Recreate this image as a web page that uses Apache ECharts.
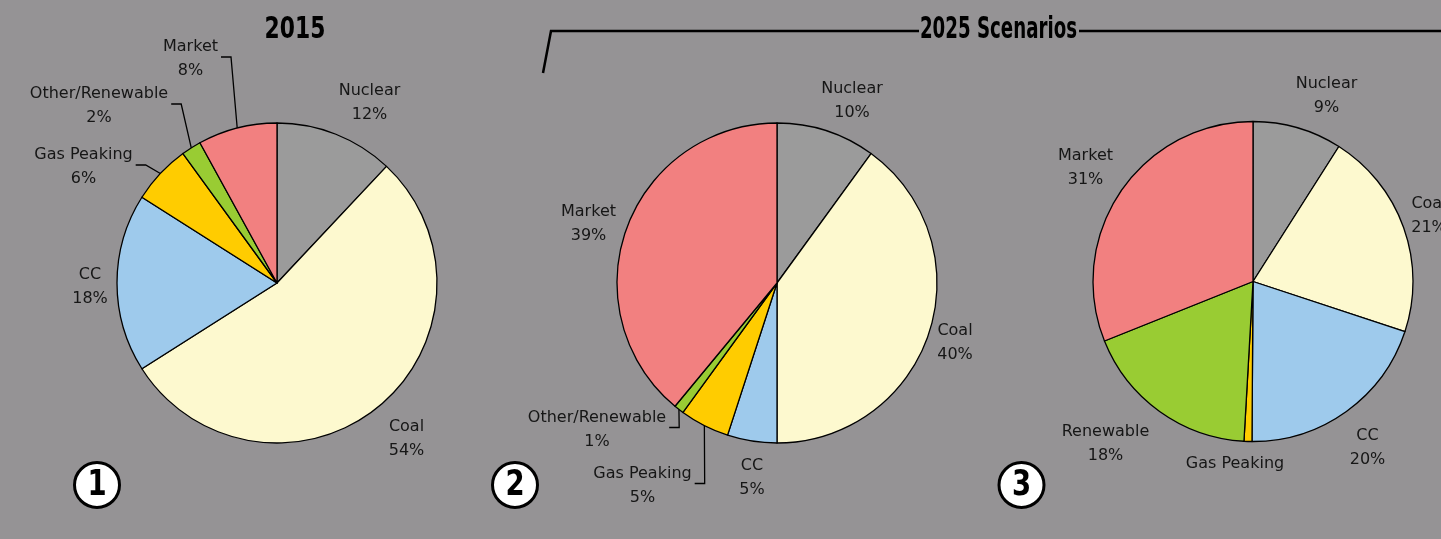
<!DOCTYPE html>
<html><head><meta charset="utf-8">
<script src="https://cdn.jsdelivr.net/npm/echarts@6/dist/echarts.min.js"></script>
<style>html,body{margin:0;padding:0;background:#959395;}#c{width:1441px;height:539px;}</style>
</head><body><div id="c"></div>
<script>
// ---- data ----
const categories2015 = ['Nuclear', 'Coal', 'CC', 'Gas Peaking', 'Other/Renewable', 'Market'];
const values2015 = [12, 54, 18, 6, 2, 8];
const categoriesScenario2 = ['Nuclear', 'Coal', 'CC', 'Gas Peaking', 'Other/Renewable', 'Market'];
const valuesScenario2 = [10, 40, 5, 5, 1, 39];
const categoriesScenario3 = ['Nuclear', 'Coal', 'CC', 'Gas Peaking', 'Renewable', 'Market'];
const valuesScenario3 = [9, 21, 20, 0.8, 18, 31];
const titles = ['2015', '2025 Scenarios'];
const scenarioNumbers = ['1', '2', '3'];

// ---- style / layout ----
const colors = {
  'Nuclear': '#9b9b9b', 'Coal': '#fdf9cf', 'CC': '#9ecaec', 'Gas Peaking': '#ffcc00',
  'Other/Renewable': '#99cc33', 'Renewable': '#99cc33', 'Market': '#f28080'
};
const pieCenters = [[277, 283], [777, 283], [1253, 281.5]];
const labelPos = [
  [[369.5, 103], [406.5, 438.5], [90, 287], [83.5, 167], [99, 106], [190.5, 59]],
  [[852, 101], [955, 343], [752, 477.5], [642.5, 485.5], [597, 429.5], [588.5, 224]],
  [[1326.5, 96], [1429, 216], [1367.5, 447.5], [1235, 464], [1105.5, 443.5], [1085.5, 168]]
];
const withLine = [
  [false, false, false, true, true, true],
  [false, false, false, true, true, false],
  [false, false, false, false, false, false]
];
const circlePos = [[97, 485], [515, 485], [1021.5, 485]];
const titleFont = "'DejaVu Sans Condensed', 'DejaVu Sans', sans-serif";

function makeSeries(idx, cats, vals) {
  return {
    type: 'pie', center: pieCenters[idx], radius: 160, startAngle: 90, clockwise: true,
    avoidLabelOverlap: false, animation: false, minShowLabelAngle: 0,
    data: cats.map((n, i) => ({
      name: n, value: vals[i], itemStyle: { color: colors[n] },
      labelLine: { show: withLine[idx][i] }
    })),
    itemStyle: { borderColor: '#000', borderWidth: 1.3 },
    label: {
      show: true, position: 'outside',
      formatter: p => p.value >= 1 ? p.name + '\n' + p.value + '%' : p.name,
      fontFamily: 'DejaVu Sans', fontSize: 16, lineHeight: 24, color: '#161616'
    },
    labelLine: { show: true, length: 8, length2: 10, lineStyle: { color: '#000', width: 1.3 } },
    labelLayout: params => {
      const p = labelPos[idx][params.dataIndex];
      const res = { x: p[0], y: p[1], align: 'center', verticalAlign: 'middle' };
      const pts = params.labelLinePoints;
      if (withLine[idx][params.dataIndex] && pts && pts.length) {
        const anchor = pts[0];
        const side = anchor[0] < p[0] ? -1 : 1;
        const ex = p[0] + side * (params.labelRect.width / 2 + 3);
        const ly = p[1] - 2;
        res.labelLinePoints = [anchor, [ex + side * 10, ly], [ex, ly]];
      }
      return res;
    },
    emphasis: { disabled: true }
  };
}

const graphics = [
  { type: 'text', x: 295, y: 30, scaleX: 0.81, style: { text: titles[0], fill: '#000', fontFamily: titleFont, fontWeight: 'bold', fontSize: 30, align: 'center', verticalAlign: 'middle' } },
  { type: 'text', x: 998.5, y: 30, scaleX: 0.675, style: { text: titles[1], fill: '#000', fontFamily: titleFont, fontWeight: 'bold', fontSize: 30, align: 'center', verticalAlign: 'middle' } },
  { type: 'polyline', shape: { points: [[543, 73], [551, 31], [919, 31]] }, style: { stroke: '#000', lineWidth: 2.5, fill: null } },
  { type: 'line', shape: { x1: 1079, y1: 31, x2: 1441, y2: 31 }, style: { stroke: '#000', lineWidth: 2.5 } }
];
circlePos.forEach((c, i) => {
  graphics.push({ type: 'circle', shape: { cx: c[0], cy: c[1], r: 22.5 }, style: { fill: '#fff', stroke: '#000', lineWidth: 3 } });
  graphics.push({ type: 'text', x: c[0], y: c[1] + 1, scaleX: 0.85, style: { text: scenarioNumbers[i], fill: '#000', fontFamily: titleFont, fontWeight: 'bold', fontSize: 36, align: 'center', verticalAlign: 'middle' } });
});

const chart = echarts.init(document.getElementById('c'), null, { renderer: 'canvas' });
chart.setOption({
  backgroundColor: '#959395',
  animation: false,
  graphic: graphics,
  series: [
    makeSeries(0, categories2015, values2015),
    makeSeries(1, categoriesScenario2, valuesScenario2),
    makeSeries(2, categoriesScenario3, valuesScenario3)
  ]
});
</script></body></html>
